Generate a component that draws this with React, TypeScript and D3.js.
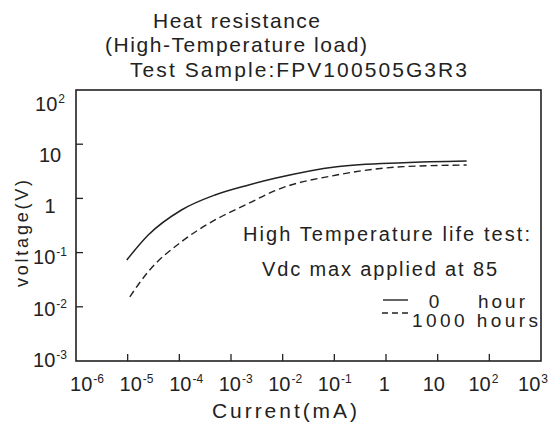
import * as d3 from 'd3'

// 0 hour curve (current in mA, voltage in V)
const CURRENT_0H = [9.6e-6, 2.5e-5, 1.1e-4, 4.9e-4, 2.2e-3, 7.1e-3, 0.111, 2.16, 36.4]
const VOLT_0H = [0.073, 0.211, 0.611, 1.156, 1.77, 2.35, 3.85, 4.56, 4.9]

// 1000 hours curve
const CURRENT_1000H = [1.1e-5, 2.5e-5, 1.1e-4, 4.9e-4, 2.2e-3, 7.1e-3, 0.111, 2.16, 36.4]
const VOLT_1000H = [0.0153, 0.0445, 0.159, 0.4, 0.81, 1.39, 2.7, 3.85, 4.13]

const X_TICKS = [1e-5, 1e-4, 1e-3, 1e-2, 1e-1, 1, 10, 100]
const X_LABEL_EXP = [-6, -5, -4, -3, -2, -1, 0, 1, 2, 3]
const Y_TICKS = [10, 1, 0.1, 0.01]
const Y_LABEL_EXP = [-3, -2, -1, 0, 1, 2]

const TITLE = ['Heat resistance', '(High-Temperature load)', 'Test Sample:FPV100505G3R3']

const W = 554
const H = 428
const M = { top: 90, right: 13, bottom: 67, left: 76 }
const INK = '#222'
const FONT = '"Liberation Sans", Arial, sans-serif'

function PowLabel({ exp, x, y }: { exp: number; x: number; y: number }) {
  if (exp === 0) return <text x={x} y={y} textAnchor="middle">1</text>
  if (exp === 1) return <text x={x} y={y} textAnchor="middle">10</text>
  return (
    <text x={x} y={y} textAnchor="middle">
      10
      <tspan fontSize={12} dx={1} dy={-8}>{exp}</tspan>
    </text>
  )
}

export default function App() {
  const x = d3.scaleLog().domain([1e-6, 1e3]).range([M.left, W - M.right])
  const y = d3.scaleLog().domain([1e-3, 1e2]).range([H - M.bottom, M.top])
  // tick labels in the original are spread a little differently from the ticks
  const xLab = d3.scaleLog().domain([1e-6, 1e3]).range([87, 533])
  const yLab = d3.scaleLog().domain([1e-3, 1e2]).range([360, 103.5])

  const line = d3
    .line<[number, number]>()
    .x((d) => x(d[0]))
    .y((d) => y(d[1]))
    .curve(d3.curveMonotoneX)

  const solid = line(d3.zip(CURRENT_0H, VOLT_0H) as [number, number][]) ?? ''
  const dashed = line(d3.zip(CURRENT_1000H, VOLT_1000H) as [number, number][]) ?? ''

  const x0 = x(1e-6)
  const x1 = x(1e3)
  const y0 = y(1e-3)
  const y1 = y(1e2)

  return (
    <svg
      width={W}
      height={H}
      style={{ position: 'absolute', left: 0, top: 0, background: '#fff' }}
      fontFamily={FONT}
      fill={INK}
    >
      {/* title */}
      <g fontSize={21}>
        <text x={153} y={28} textLength={167} lengthAdjust="spacing">{TITLE[0]}</text>
        <text x={105} y={52} textLength={262} lengthAdjust="spacing">{TITLE[1]}</text>
        <text x={130} y={77} textLength={337} lengthAdjust="spacing">{TITLE[2]}</text>
      </g>

      {/* frame */}
      <rect x={x0} y={y1} width={x1 - x0} height={y0 - y1} fill="none" stroke={INK} strokeWidth={1.6} />

      {/* ticks, pointing inward */}
      {X_TICKS.map((t) => (
        <line key={t} x1={x(t)} x2={x(t)} y1={y0} y2={y0 - 7} stroke={INK} strokeWidth={1.3} />
      ))}
      {Y_TICKS.map((t) => (
        <line key={t} x1={x0} x2={x0 + 7} y1={y(t)} y2={y(t)} stroke={INK} strokeWidth={1.3} />
      ))}

      {/* tick labels */}
      <g fontSize={20}>
        {X_LABEL_EXP.map((e) => (
          <PowLabel key={e} exp={e} x={xLab(Math.pow(10, e))} y={391} />
        ))}
        {Y_LABEL_EXP.map((e) => (
          <PowLabel key={e} exp={e} x={50} y={yLab(Math.pow(10, e)) + 7} />
        ))}
      </g>

      {/* axis titles */}
      <text x={284.5} y={418} fontSize={21} textAnchor="middle" textLength={145} lengthAdjust="spacing">
        Current(mA)
      </text>
      <text
        transform="translate(28,233.5) rotate(-90)"
        fontSize={18}
        textAnchor="middle"
        textLength={107}
        lengthAdjust="spacing"
      >
        voltage(V)
      </text>

      {/* curves */}
      <path d={solid} fill="none" stroke={INK} strokeWidth={1.5} />
      <path d={dashed} fill="none" stroke={INK} strokeWidth={1.4} strokeDasharray="7 4" />

      {/* annotation */}
      <g fontSize={20}>
        <text x={243} y={241} textLength={287} lengthAdjust="spacing">High Temperature life test:</text>
        <text x={262} y={276} textLength={235} lengthAdjust="spacing">Vdc max applied at 85</text>
      </g>

      {/* legend */}
      <g fontSize={19}>
        <line x1={383} x2={408} y1={300} y2={300} stroke={INK} strokeWidth={1.4} />
        <text x={434} y={308} textAnchor="middle">0</text>
        <text x={478} y={308} textLength={47} lengthAdjust="spacing">hour</text>
        <line x1={382} x2={408} y1={313} y2={313} stroke={INK} strokeWidth={1.4} strokeDasharray="6 4" />
        <text x={412} y={327} textLength={126} lengthAdjust="spacing">1000 hours</text>
      </g>
    </svg>
  )
}
